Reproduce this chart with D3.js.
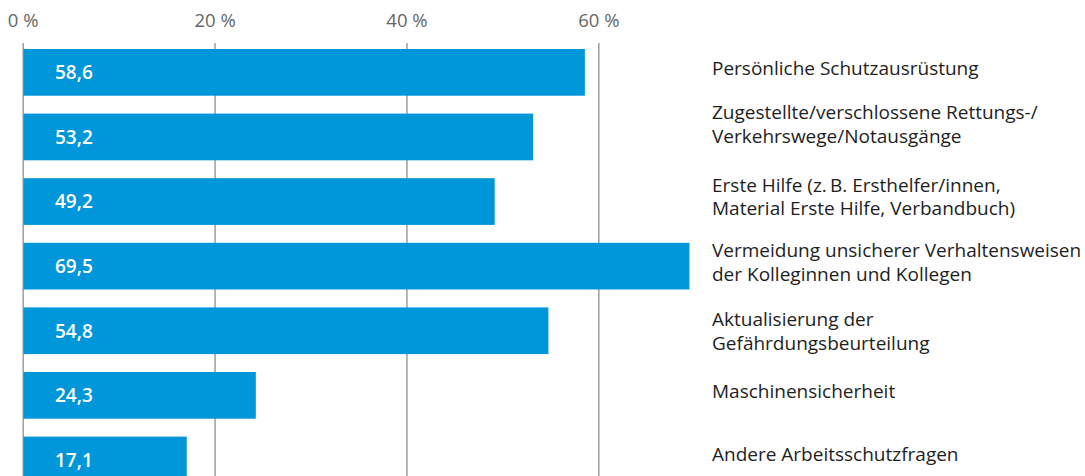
<!DOCTYPE html>
<html>
<head>
<meta charset="utf-8">
<script src="https://cdn.jsdelivr.net/npm/d3@7"></script>
<style>
  html, body { margin: 0; padding: 0; background: #fff; }
  svg { display: block; }
</style>
</head>
<body>
<svg id="chart"></svg>
<script>
let categories = [
    ['Persönliche Schutzausrüstung'],
    ['Zugestellte/verschlossene Rettungs-/', 'Verkehrswege/Notausgänge'],
    ['Erste Hilfe (z.\u2009B. Ersthelfer/innen,', 'Material Erste Hilfe, Verbandbuch)'],
    ['Vermeidung unsicherer Verhaltensweisen', 'der Kolleginnen und Kollegen'],
    ['Aktualisierung der', 'Gefährdungsbeurteilung'],
    ['Maschinensicherheit'],
    ['Andere Arbeitsschutzfragen']
];
let values = [58.6, 53.2, 49.2, 69.5, 54.8, 24.3, 17.1];
let tickValues = [0, 20, 40, 60];

var width = 1085, height = 476;
var barColor = '#0096da', gridColor = '#a3a3a3';
var fontFamily = 'Open Sans, sans-serif';
// hand nudges of the label blocks, as in the original layout
var labelShift = [-4, -13, -5, -4, 0.5, -4, -5.6];

var svg = d3.select('#chart').attr('width', width).attr('height', height);

var x = d3.scaleLinear().domain([0, 60]).range([22.7, 598.3]);
var y = d3.scaleBand()
    .domain(d3.range(values.length))
    .range([49, 483.3])
    .paddingInner(0.277)
    .paddingOuter(0);

// grid + tick labels
var axis = svg.append('g')
    .attr('class', 'axis')
    .attr('transform', 'translate(0,43)')
    .call(d3.axisTop(x)
        .tickValues(tickValues)
        .tickSize(-(height - 43))
        .tickPadding(16)
        .tickFormat(function(d) { return d + '\u00a0%'; }));
axis.select('.domain').remove();
axis.selectAll('.tick line')
    .attr('stroke', gridColor)
    .attr('stroke-width', 1.6);
axis.selectAll('.tick text')
    .attr('fill', '#666')
    .attr('font-family', fontFamily)
    .attr('font-size', '18.5px');

// bars
var bars = svg.append('g').attr('class', 'bars')
    .selectAll('g')
    .data(values)
    .enter()
    .append('g');

bars.append('rect')
    .attr('x', x(0) + 0.8)
    .attr('y', function(d, i) { return y(i); })
    .attr('width', function(d) { return x(d) - x(0) - 0.8; })
    .attr('height', y.bandwidth())
    .attr('fill', barColor);

bars.append('text')
    .attr('x', 55)
    .attr('y', function(d, i) { return y(i) + y.bandwidth() / 2; })
    .attr('dy', '0.36em')
    .attr('fill', '#fff')
    .attr('font-family', fontFamily)
    .attr('font-weight', 600)
    .attr('font-size', '19px')
    .text(function(d) { return d3.format('.1f')(d).replace('.', ','); });

// category labels
var lineHeight = 23.5;
var labels = svg.append('g').attr('class', 'labels')
    .selectAll('text')
    .data(categories)
    .enter()
    .append('text')
    .attr('font-family', fontFamily)
    .attr('font-size', '19px')
    .attr('fill', '#1e1e1e')
    .attr('transform', function(d, i) {
        var cy = y(i) + y.bandwidth() / 2 + labelShift[i] - (d.length - 1) * lineHeight / 2;
        return 'translate(712,' + cy + ')';
    });

labels.selectAll('tspan')
    .data(function(d) { return d; })
    .enter()
    .append('tspan')
    .attr('x', 0)
    .attr('y', function(d, i) { return i * lineHeight; })
    .attr('dy', '0.36em')
    .text(function(d) { return d; });
</script>
</body>
</html>
